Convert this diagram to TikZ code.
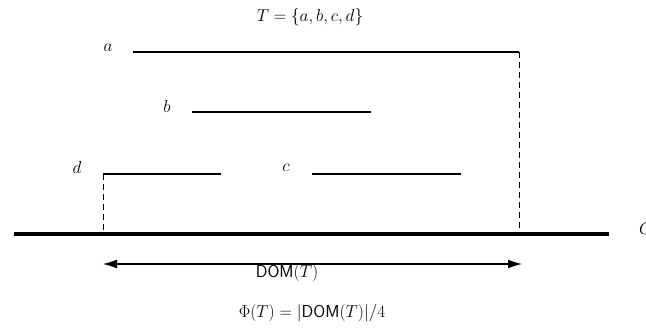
\documentclass[tikz,border=0pt]{standalone}
\usetikzlibrary{arrows.meta}
\begin{document}
\begin{tikzpicture}[x=1pt,y=-1pt,
  lbl/.style={inner sep=0pt,font=\fontsize{18.5}{22}\selectfont},
  seg/.style={line width=1.1pt},
  guide/.style={line width=1pt,dash pattern=on 6pt off 4pt},
  axis/.style={line width=3.5pt},
  span/.style={line width=1.2pt,{Latex[length=14pt,width=9pt]}-{Latex[length=14pt,width=9pt]}}]
\useasboundingbox (0,0) rectangle (646,331);
\node[lbl] (title) at (310,17) {$T=\{a,b,c,d\}$};
\node[lbl] (la) at (108,48) {$a$};
\coordinate (a1) at (133,52); \coordinate (a2) at (519,52);
\draw[seg] (a1) -- (a2);
\node[lbl] (lb) at (167,107) {$b$};
\coordinate (b1) at (192,112); \coordinate (b2) at (371,112);
\draw[seg] (b1) -- (b2);
\node[lbl] (ld) at (77,168) {$d$};
\coordinate (d1) at (103,174); \coordinate (d2) at (221,174);
\draw[seg] (d1) -- (d2);
\node[lbl] (lc) at (286,168) {$c$};
\coordinate (c1) at (312,174); \coordinate (c2) at (461,174);
\draw[seg] (c1) -- (c2);
\coordinate (ax1) at (14,234); \coordinate (ax2) at (609,234);
\draw[axis] (ax1) -- (ax2);
\coordinate (dg) at (103,232); \coordinate (ag) at (519,232);
\draw[guide] (d1) -- (dg);
\draw[guide] (a2) -- (ag);
\node[lbl,anchor=west] (lC) at (639,229) {$C$};
\coordinate (s1) at (103,264); \coordinate (s2) at (522,264);
\draw[span] (s1) -- (s2);
\node[lbl] (dom) at (287,273) {$\mathsf{DOM}(T)$};
\node[lbl] (phi) at (312,313) {$\Phi(T)=|\mathsf{DOM}(T)|/4$};
\end{tikzpicture}
\end{document}
